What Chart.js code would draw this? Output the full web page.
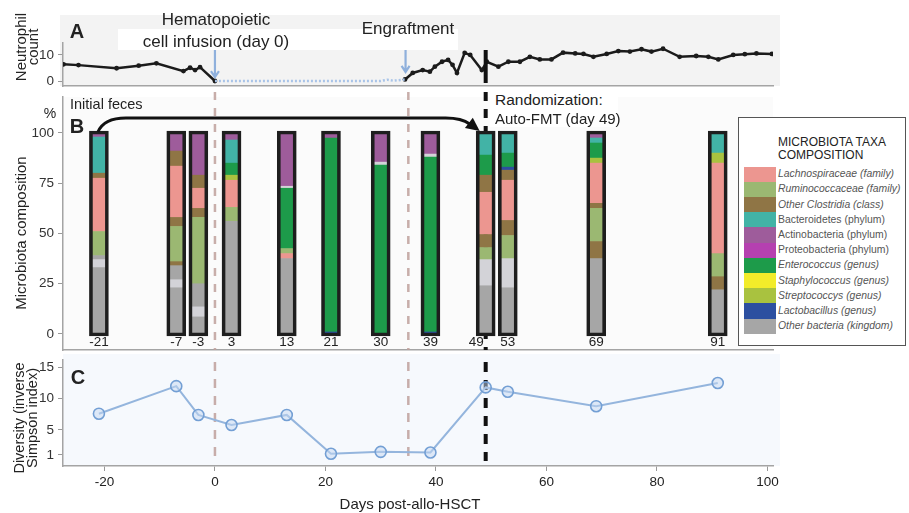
<!DOCTYPE html>
<html><head><meta charset="utf-8">
<script src="https://cdn.jsdelivr.net/npm/chart.js@4.4.1/dist/chart.umd.min.js"></script>
<style>
html,body{margin:0;padding:0;background:#fff;}
#wrap{position:relative;width:909px;height:513px;overflow:hidden;font-family:"Liberation Sans",Arial,sans-serif;color:#222;}
canvas{position:absolute;left:0;}
.c{position:absolute;white-space:pre;line-height:1;transform:translate(-50%,-50%);}
.l{position:absolute;white-space:pre;line-height:1;transform:translate(0,-50%);}
.rot{position:absolute;white-space:pre;text-align:center;transform:translate(-50%,-50%) rotate(-90deg);}
#legend{position:absolute;left:738px;top:117px;width:166px;height:227px;border:1px solid #555;background:#fff;z-index:5;}
#legend .ttl{position:absolute;left:39px;top:18px;font-size:12px;line-height:13px;color:#222;white-space:pre;}
#legend .sw{position:absolute;left:5px;width:32px;}
#legend .it{position:absolute;left:39px;font-size:10.4px;color:#555;white-space:pre;transform:translate(0,-50%);line-height:1;}
</style></head>
<body><div id="wrap">
<canvas id="cA" width="909" height="100" style="top:0px"></canvas>
<canvas id="cB" width="909" height="285" style="top:80px"></canvas>
<canvas id="cC" width="909" height="173" style="top:340px"></canvas>

<div class="c" style="left:77px;top:31px;font-size:20px;font-weight:bold;">A</div>
<div class="c" style="left:216px;top:18.5px;font-size:17px;">Hematopoietic</div>
<div class="c" style="left:216px;top:41px;font-size:17px;">cell infusion (day 0)</div>
<div class="c" style="left:408px;top:28px;font-size:17px;">Engraftment</div>
<div class="l" style="left:70px;top:104px;font-size:14.5px;">Initial feces</div>
<div class="c" style="left:50px;top:113px;font-size:14px;">%</div>
<div class="c" style="left:77px;top:126px;font-size:20px;font-weight:bold;">B</div>
<div style="position:absolute;left:490px;top:91px;width:128px;height:36px;background:#fff;"></div>
<div class="l" style="left:495px;top:100px;font-size:15.5px;">Randomization:</div>
<div class="l" style="left:495px;top:118px;font-size:15px;">Auto-FMT (day 49)</div>
<div class="c" style="left:78px;top:377px;font-size:20px;font-weight:bold;">C</div>
<div class="c" style="left:410px;top:503px;font-size:15px;">Days post-allo-HSCT</div>
<div class="rot" style="left:27px;top:47px;font-size:15px;line-height:12px;">Neutrophil
count</div>
<div class="rot" style="left:20px;top:233px;font-size:15px;line-height:15px;">Microbiota composition</div>
<div class="rot" style="left:26px;top:418px;font-size:14.5px;line-height:13px;">Diversity (inverse
Simpson index)</div>
<div id="legend"><div class="ttl">MICROBIOTA TAXA
COMPOSITION</div></div>
</div>
<script>
// ---------- DATA ----------
const dayMin = -27.5, dayMax = 101;
const xTicks = [-20, 0, 20, 40, 60, 80, 100];
const neutroTicks = [0, 10];
const compTicks = [0, 25, 50, 75, 100];
const divTicks = [1, 5, 10, 15];

const infusionDay = 0, engraftmentDay = 35, fmtDay = 49;
const arrowDays = [0, 34.5];

// Neutrophil count (panel A)
const neutroPreDays   = [-27.4, -24.7, -17.8, -13.8, -10.6, -5.7, -4.5, -3.6, -2.7, 0];
const neutroPreCounts = [6.4, 6.1, 4.9, 5.9, 6.8, 3.8, 5.1, 4.2, 5.3, 0];
const neutroPostDays   = [34.4, 35.8, 37.6, 38.9, 39.8, 41.1, 42.2, 43.0, 43.8, 45.2, 46.2, 48.3, 49.2, 51.3, 53.1, 55.2, 57.0, 58.8, 60.9, 63.0, 65.2, 66.7, 68.5, 70.9, 73.0, 75.1, 77.2, 79.0, 81.1, 84.1, 87.1, 89.3, 91.1, 93.8, 95.9, 98.0, 100.8];
const neutroPostCounts = [0.6, 3.1, 4.2, 3.6, 5.5, 7.4, 8.1, 6.2, 3.1, 10.8, 10.0, 4.2, 7.4, 5.5, 7.4, 7.4, 9.3, 8.3, 8.3, 10.9, 10.6, 10.4, 9.3, 10.4, 11.5, 11.3, 12.2, 11.3, 12.4, 9.3, 9.6, 9.3, 8.3, 10.0, 10.3, 10.6, 10.4];
const neutropeniaDays   = [0, 5, 10, 15, 20, 25, 30, 31.2, 32.3, 34.4];
const neutropeniaCounts = [0, 0, 0, 0, 0, 0, 0, 0.5, 0.1, 0.6];

// Microbiota composition (panel B), segments bottom to top, % of sample
const sampleDays   = [-21, -7, -3, 3, 13, 21, 30, 39, 49, 53, 69, 91];
const sampleLabels = ['-21', '-7', '-3', '3', '13', '21', '30', '39', '49', '53', '69', '91'];
const comp_m21 = [['OTHR',33],['OTHL',4],['OTHR',2],['RUMI',12],['LACH',26.5],['CLOS',2.5],['BACT',18],['ACTI',2]];
const comp_m7  = [['OTHR',23],['OTHL',4],['OTHR',7],['CLOS',2],['RUMI',17.5],['CLOS',4.5],['LACH',25.5],['CLOS',7.5],['ACTI',9]];
const comp_m3  = [['OTHR',8.5],['OTHL',5],['OTHR',11.5],['RUMI',33],['CLOS',4.5],['LACH',10],['CLOS',6.5],['ACTI',21]];
const comp_3   = [['OTHR',56],['RUMI',7],['LACH',13.5],['STRE',2.5],['ENTE',6],['BACT',11.5],['ACTI',3.5]];
const comp_13  = [['OTHR',37.5],['LACH',2.5],['RUMI',2.5],['ENTE',30],['OTHL',1],['ACTI',26.5]];
const comp_21  = [['LACT',1],['ENTE',96.5],['ACTI',2.5]];
const comp_30  = [['ENTE',84],['OTHL',1.5],['ACTI',14.5]];
const comp_39  = [['LACT',1],['ENTE',87],['OTHL',1.5],['ACTI',10.5]];
const comp_49  = [['OTHR',24],['OTHL',13],['RUMI',6],['CLOS',6.5],['LACH',21],['CLOS',8.5],['ENTE',10],['BACT',11]];
const comp_53  = [['OTHR',23],['OTHL',14.5],['RUMI',11.5],['CLOS',7.5],['LACH',20],['CLOS',5],['LACT',1.5],['ENTE',7],['BACT',10]];
const comp_69  = [['OTHR',37.5],['CLOS',8.5],['RUMI',16.5],['CLOS',2.5],['LACH',20],['STRE',2.5],['ENTE',7.5],['BACT',2.5],['ACTI',2.5]];
const comp_91  = [['OTHR',22],['CLOS',6.5],['RUMI',11.5],['LACH',45],['STRE',5],['BACT',10]];
const compositions = [comp_m21, comp_m7, comp_m3, comp_3, comp_13, comp_21, comp_30, comp_39, comp_49, comp_53, comp_69, comp_91];

// Legend taxa
const taxaKeys   = ['LACH','RUMI','CLOS','BACT','ACTI','PROT','ENTE','STAP','STRE','LACT','OTHR'];
const taxaNames  = ['Lachnospiraceae (family)','Ruminococcaceae (family)','Other Clostridia (class)','Bacteroidetes (phylum)','Actinobacteria (phylum)','Proteobacteria (phylum)','Enterococcus (genus)','Staphylococcus (genus)','Streptococcys (genus)','Lactobacillus (genus)','Other bacteria (kingdom)'];
const taxaItalic = [true, true, true, false, false, false, true, true, true, true, true];
const taxaColors = ['#ec9690','#9bb872','#8f7545','#42b3a6','#9e5c9b','#b540b0','#1d9b4a','#f2ec2a','#a9c23f','#2c4fa0','#a6a6a6'];
const otherLightColor = '#d3d3d8';

// Diversity (panel C)
const divDays   = [-21, -7, -3, 3, 13, 21, 30, 39, 49, 53, 69, 91];
const divValues = [7.6, 12.0, 7.4, 5.8, 7.4, 1.2, 1.5, 1.4, 11.8, 11.1, 8.8, 12.5];

// ---------- HELPERS ----------
const zip = (xs, ys) => xs.map((x, i) => ({x: x, y: ys[i]}));
const colorOf = k => k === 'OTHL' ? otherLightColor : taxaColors[taxaKeys.indexOf(k)];
function vline(ctx, x, y0, y1, color, w, dash) {
  ctx.save(); ctx.strokeStyle = color; ctx.lineWidth = w; ctx.setLineDash(dash);
  ctx.beginPath(); ctx.moveTo(x, y0); ctx.lineTo(x, y1); ctx.stroke(); ctx.restore();
}
const DASH_PINK = 'rgba(190,160,155,0.85)';
const AXIS = '#a4a4a4';

Chart.defaults.font.family = '"Liberation Sans", Arial, sans-serif';
Chart.defaults.color = '#222';

const baseOpts = {
  responsive: false, animation: false, devicePixelRatio: 1,
  plugins: {legend: {display: false}, tooltip: {enabled: false}}
};
function yAxis(min, max, ticks, extra) {
  return Object.assign({
    min: min, max: max,
    afterBuildTicks: s => { s.ticks = ticks.map(v => ({value: v})); },
    ticks: {font: {size: 13.5}, color: '#333', padding: 4},
    grid: {drawOnChartArea: false, tickLength: 5, color: '#999'},
    border: {color: AXIS, width: 1.5},
    afterFit: s => { s.width = 63; }
  }, extra || {});
}

// ---------- PANEL A ----------
new Chart(document.getElementById('cA'), {
  type: 'line',
  data: {datasets: [
    {data: zip(neutropeniaDays, neutropeniaCounts), borderColor: '#a9c4e8', borderWidth: 2.5, borderDash: [2, 2], pointRadius: 0},
    {data: zip(neutroPreDays, neutroPreCounts), borderColor: '#1b1b1b', borderWidth: 2.5, pointRadius: 2.4, pointBackgroundColor: '#1b1b1b', pointBorderWidth: 0},
    {data: zip(neutroPostDays, neutroPostCounts), borderColor: '#1b1b1b', borderWidth: 2.5, pointRadius: 2.4, pointBackgroundColor: '#1b1b1b', pointBorderWidth: 0}
  ]},
  options: Object.assign({}, baseOpts, {
    layout: {padding: {top: 43, bottom: 14, left: 0, right: 136}},
    scales: {
      x: {type: 'linear', min: dayMin, max: dayMax, ticks: {display: false}, grid: {display: false},
          border: {display: true, color: AXIS, width: 1.5}, afterFit: s => { s.height = 0; }},
      y: yAxis(-1.92, 14.6, neutroTicks)
    }
  }),
  plugins: [{
    id: 'panelA',
    beforeDraw(chart) {
      const {ctx, chartArea: ca} = chart;
      ctx.save();
      ctx.fillStyle = '#f3f3f3';
      ctx.fillRect(ca.left - 3, 15, ca.right - ca.left + 10, ca.bottom - 15);
      ctx.fillStyle = '#ffffff';
      ctx.fillRect(118, 29, 340, 21);
      ctx.restore();
    },
    afterDatasetsDraw(chart) {
      const {ctx, chartArea: ca, scales: {x, y}} = chart;
      const tips = [1.5, 3.5];
      arrowDays.forEach((d, i) => {
        const px = x.getPixelForValue(d), y0 = ca.top + 7, y1 = y.getPixelForValue(tips[i]);
        ctx.save(); ctx.strokeStyle = '#8fb0dc'; ctx.lineWidth = 2.2;
        ctx.beginPath(); ctx.moveTo(px, y0); ctx.lineTo(px, y1);
        ctx.moveTo(px - 4, y1 - 6); ctx.lineTo(px, y1); ctx.lineTo(px + 4, y1 - 6); ctx.stroke(); ctx.restore();
      });
      const xf = x.getPixelForValue(fmtDay);
      vline(ctx, xf, ca.top + 7, ca.bottom - 3, '#111', 4, []);
    }
  }]
});

// ---------- PANEL B ----------
const nLayers = Math.max(...compositions.map(c => c.length));
const layerSets = [];
for (let k = 0; k < nLayers; k++) {
  const data = [], colors = [];
  compositions.forEach((c, i) => {
    if (c.length > k) { data.push({x: sampleDays[i], y: c[k][1]}); colors.push(colorOf(c[k][0])); }
  });
  layerSets.push({data: data, backgroundColor: colors, borderWidth: 0, barThickness: 14, yAxisID: 'y', stack: 'comp', order: 2, grouped: false});
}
layerSets.push({
  data: sampleDays.map(d => ({x: d, y: [-1, 101]})),
  backgroundColor: 'rgba(0,0,0,0)', borderColor: '#1e1e1e', borderWidth: 3, borderSkipped: false,
  barThickness: 19, yAxisID: 'y2', order: 1, grouped: false
});

new Chart(document.getElementById('cB'), {
  type: 'bar',
  data: {datasets: layerSets},
  options: Object.assign({}, baseOpts, {
    layout: {padding: {top: 17, bottom: 15, left: 0, right: 136}},
    scales: {
      x: {type: 'linear', min: dayMin, max: dayMax, offset: false,
          afterBuildTicks: s => { s.ticks = sampleDays.map(v => ({value: v})); },
          ticks: {font: {size: 13.5}, color: '#222', mirror: true, padding: 0, autoSkip: false, maxRotation: 0,
                  callback: v => { const l = sampleLabels[sampleDays.indexOf(v)]; return v === fmtDay ? l + '     ' : l; }},
          grid: {display: false, offset: false},
          border: {display: true, color: AXIS, width: 1.5}, afterFit: s => { s.height = 0; }},
      y: yAxis(-7.96, 117.9, compTicks, {stacked: true}),
      y2: {display: false, min: -7.96, max: 117.9}
    }
  }),
  plugins: [{
    id: 'panelB',
    beforeDraw(chart) {
      const {ctx, chartArea: ca} = chart;
      ctx.save(); ctx.fillStyle = '#fbfbfb'; ctx.fillRect(ca.left, ca.top, ca.right - ca.left, ca.bottom - ca.top); ctx.restore();
    },
    beforeDatasetsDraw(chart) {
      const {ctx, chartArea: ca, scales: {x}} = chart;
      [infusionDay, engraftmentDay].forEach(d => vline(ctx, x.getPixelForValue(d), ca.top - 5, ca.bottom, DASH_PINK, 2.5, [8, 8]));
      vline(ctx, x.getPixelForValue(fmtDay), ca.top - 5, ca.bottom, '#111', 4, [9, 8]);
    },
    afterDatasetsDraw(chart) {
      const {ctx, scales: {x, y}} = chart;
      const x0 = x.getPixelForValue(sampleDays[0]) - 1, y0 = y.getPixelForValue(100) - 1;
      const x1 = x.getPixelForValue(fmtDay), yTop = y0 - 14;
      ctx.save(); ctx.strokeStyle = '#111'; ctx.fillStyle = '#111'; ctx.lineWidth = 3;
      ctx.beginPath(); ctx.moveTo(x0, y0);
      ctx.quadraticCurveTo(x0 + 6, yTop, x0 + 28, yTop);
      ctx.lineTo(x1 - 40, yTop);
      ctx.quadraticCurveTo(x1 - 24, yTop, x1 - 16, yTop + 6);
      ctx.stroke();
      const tx = x1 - 6, ty = y0 - 1, ang = Math.atan2(ty - (yTop + 4), tx - (x1 - 18));
      ctx.beginPath(); ctx.moveTo(tx, ty);
      ctx.lineTo(tx - 15 * Math.cos(ang - 0.45), ty - 15 * Math.sin(ang - 0.45));
      ctx.lineTo(tx - 15 * Math.cos(ang + 0.45), ty - 15 * Math.sin(ang + 0.45));
      ctx.closePath(); ctx.fill(); ctx.restore();
    }
  }]
});

// ---------- PANEL C ----------
new Chart(document.getElementById('cC'), {
  type: 'line',
  data: {datasets: [{
    data: zip(divDays, divValues), borderColor: '#94b5dd', borderWidth: 2,
    pointRadius: 5.5, pointBorderColor: '#739fd4', pointBackgroundColor: 'rgba(195,215,242,0.5)', pointBorderWidth: 1.6
  }]},
  options: Object.assign({}, baseOpts, {
    layout: {padding: {top: 20, bottom: 0, left: 0, right: 136}},
    scales: {
      x: {type: 'linear', min: dayMin, max: dayMax,
          afterBuildTicks: s => { s.ticks = xTicks.map(v => ({value: v})); },
          ticks: {font: {size: 13.5}, color: '#222', padding: 3},
          grid: {drawOnChartArea: false, tickLength: 5, color: '#999'},
          border: {color: AXIS, width: 1.5}, afterFit: s => { s.height = 47; }},
      y: yAxis(-0.76, 16.18, divTicks)
    }
  }),
  plugins: [{
    id: 'panelC',
    beforeDraw(chart) {
      const {ctx, chartArea: ca} = chart;
      ctx.save(); ctx.fillStyle = '#f6f9fd'; ctx.fillRect(ca.left, ca.top - 6, ca.right - ca.left + 7, ca.bottom - ca.top + 6); ctx.restore();
    },
    beforeDatasetsDraw(chart) {
      const {ctx, chartArea: ca, scales: {x}} = chart;
      [infusionDay, engraftmentDay].forEach(d => vline(ctx, x.getPixelForValue(d), ca.top + 2, ca.bottom - 3, DASH_PINK, 2.5, [9, 8]));
      vline(ctx, x.getPixelForValue(fmtDay), ca.top + 2, ca.bottom - 5, '#111', 4, [10, 8]);
    }
  }]
});

// ---------- LEGEND ----------
const lg = document.getElementById('legend');
taxaNames.forEach((name, i) => {
  const top = 48.5 + i * 15.2;
  const sw = document.createElement('div');
  sw.className = 'sw'; sw.style.top = top + 'px'; sw.style.height = '15.4px'; sw.style.background = taxaColors[i];
  lg.appendChild(sw);
  const t = document.createElement('div');
  t.className = 'it'; t.style.top = (top + 7.6) + 'px'; t.textContent = name;
  if (taxaItalic[i]) t.style.fontStyle = 'italic';
  lg.appendChild(t);
});
</script>
</body></html>
